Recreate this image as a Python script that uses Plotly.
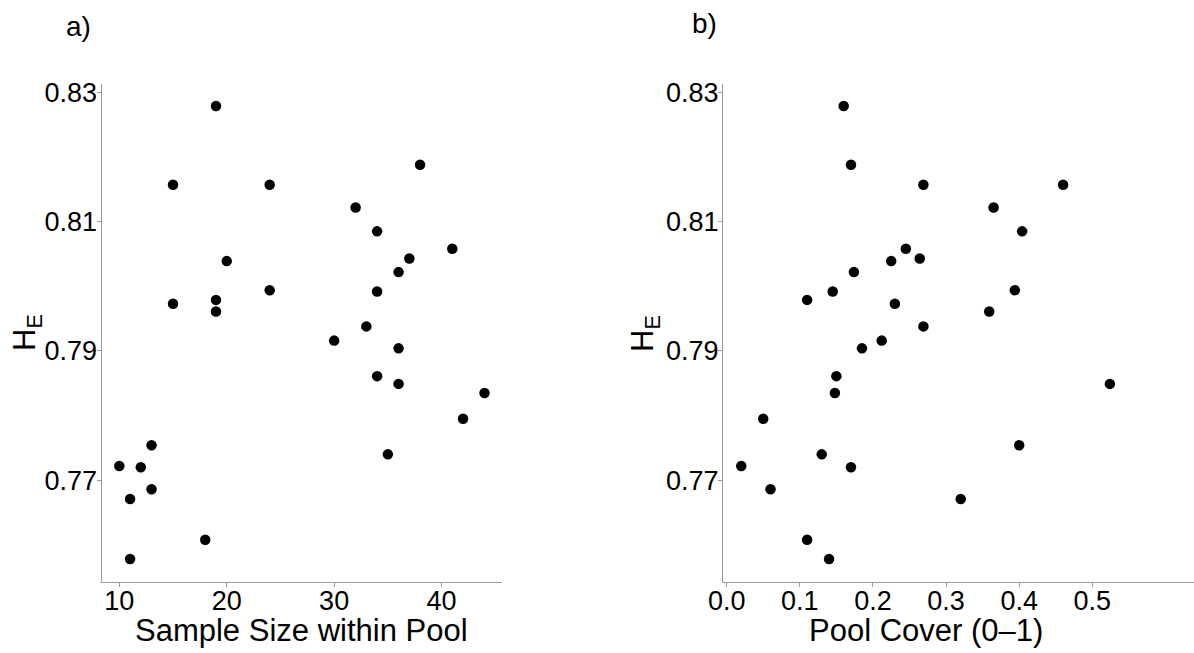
import plotly.graph_objects as go

# Expected heterozygosity (H_E) per pool
he = [0.8279, 0.8188, 0.8157, 0.8157, 0.8122, 0.8085, 0.8058, 0.8043, 0.8039, 0.8022,
      0.7994, 0.7992, 0.7979, 0.7973, 0.7961, 0.7938, 0.7916, 0.7904, 0.7861, 0.7849,
      0.7835, 0.7795, 0.7754, 0.7740, 0.7722, 0.7720, 0.7686, 0.7671, 0.7608, 0.7578]
# Sample size within pool
sample_size = [19, 38, 15, 24, 32, 34, 41, 37, 20, 36,
               24, 34, 19, 15, 19, 33, 30, 36, 34, 36,
               44, 42, 13, 35, 10, 12, 13, 11, 18, 11]
# Pool cover (0-1)
pool_cover = [0.160, 0.170, 0.460, 0.269, 0.365, 0.404, 0.245, 0.264, 0.225, 0.174,
              0.394, 0.145, 0.110, 0.230, 0.359, 0.269, 0.212, 0.185, 0.150, 0.524,
              0.148, 0.050, 0.400, 0.130, 0.020, 0.170, 0.060, 0.320, 0.110, 0.140]

y_ticks = [0.77, 0.79, 0.81, 0.83]
x1_ticks = [10, 20, 30, 40]
x2_ticks = [0.0, 0.1, 0.2, 0.3, 0.4, 0.5]
x2_ticktext = ["0.0", "0.1", "0.2", "0.3", "0.4", "0.5"]

W, H = 1194, 653
FONT = "Liberation Sans, Arial, sans-serif"
AXIS_GREY = "#9a9a9a"

fig = go.Figure()
marker = dict(color="black", size=10.5, line=dict(width=0))
fig.add_trace(go.Scatter(x=sample_size, y=he, mode="markers", marker=marker,
                         xaxis="x", yaxis="y", showlegend=False))
fig.add_trace(go.Scatter(x=pool_cover, y=he, mode="markers", marker=marker,
                         xaxis="x2", yaxis="y2", showlegend=False))

def px_x(p):
    return p / W

def px_y(p):
    return 1 - p / H

axis_common = dict(showgrid=False, zeroline=False, showline=True, linecolor=AXIS_GREY,
                   linewidth=1.3, ticks="outside", ticklen=4, tickwidth=1.1,
                   automargin=False,
                   tickcolor=AXIS_GREY, tickfont=dict(family=FONT, size=27, color="black"))

ydom = [px_y(581.7), px_y(84)]
yrange = [0.7543, 0.8313]

fig.update_layout(
    width=W, height=H,
    margin=dict(l=0, r=0, t=0, b=0, pad=0, autoexpand=False),
    paper_bgcolor="white", plot_bgcolor="white",
    xaxis=dict(domain=[px_x(101.7), px_x(501.7)], range=[8.36, 45.6],
               tickvals=x1_ticks, anchor="y", ticklabelstandoff=-9, **axis_common),
    yaxis=dict(domain=ydom, range=yrange, tickvals=y_ticks, tickformat=".2f",
               anchor="x", ticklabelstandoff=-6, **axis_common),
    xaxis2=dict(domain=[px_x(723), 1.0], range=[-0.005, 0.639],
                tickvals=x2_ticks, ticktext=x2_ticktext, anchor="y2",
                ticklabelstandoff=-9, **axis_common),
    yaxis2=dict(domain=ydom, range=yrange, tickvals=y_ticks, tickformat=".2f",
                anchor="x2", ticklabelstandoff=-6, **axis_common),
)

ann_font = dict(family=FONT, size=31, color="black")
annotations = [
    dict(text="a)", x=px_x(64), y=px_y(27), xanchor="left", yanchor="middle",
         font=dict(family=FONT, size=28, color="black")),
    dict(text="b)", x=px_x(690), y=px_y(24), xanchor="left", yanchor="middle",
         font=dict(family=FONT, size=28, color="black")),
    dict(text="Sample Size within Pool", x=px_x(301), y=px_y(630), xanchor="center",
         yanchor="middle", font=ann_font),
    dict(text="Pool Cover (0\u20131)", x=px_x(926), y=px_y(630), xanchor="center",
         yanchor="middle", font=ann_font),
    dict(text="H<sub>E</sub>", x=px_x(27), y=px_y(333), xanchor="center",
         yanchor="middle", textangle=-90, font=ann_font),
    dict(text="H<sub>E</sub>", x=px_x(645), y=px_y(333), xanchor="center",
         yanchor="middle", textangle=-90, font=ann_font),
]
for a in annotations:
    a.update(xref="paper", yref="paper", showarrow=False)
fig.update_layout(annotations=annotations)

fig.write_html("out.html")
